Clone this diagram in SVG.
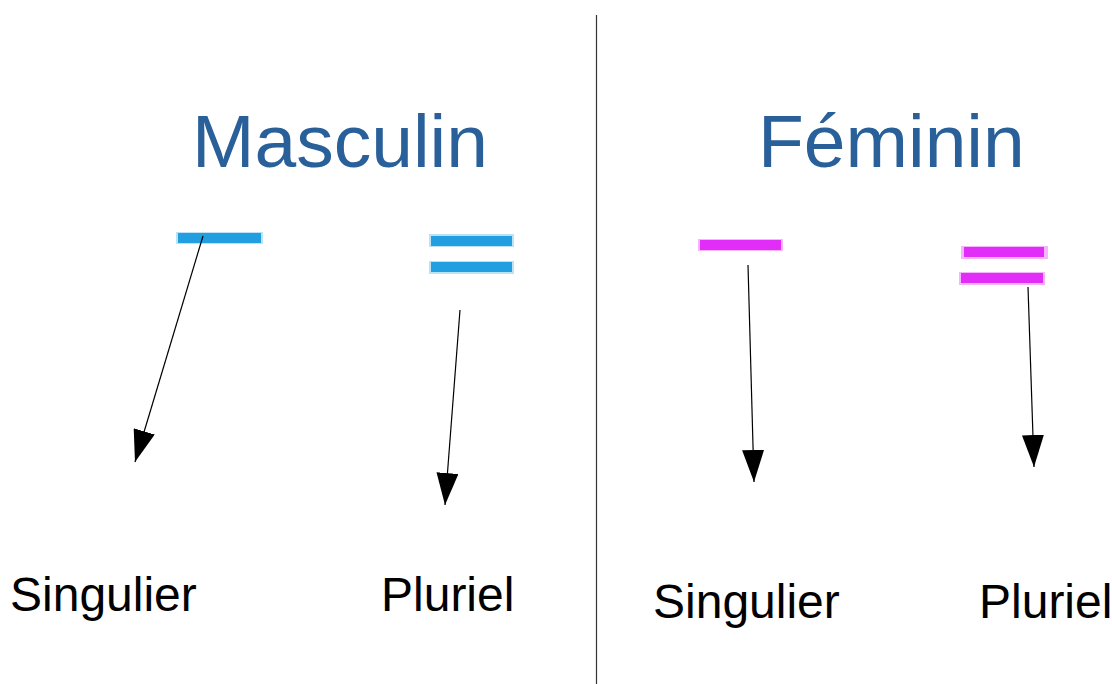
<svg xmlns="http://www.w3.org/2000/svg" width="1112" height="684" viewBox="0 0 1112 684">
<style>
.title{font-family:"Liberation Sans",Arial,sans-serif;font-size:75px;fill:#2a6099}
.lbl{font-family:"Liberation Sans",Arial,sans-serif;font-size:48px;fill:#000}
.blue{fill:#229fe0}
.blueh{fill:#229fe0;opacity:0.3}
.mag{fill:#e22cf8}
.magh{fill:#e22cf8;opacity:0.35}
.conn{stroke:#000;stroke-width:1.2;fill:none;marker-end:url(#ah)}
</style>
<defs>
<marker id="ah" markerUnits="userSpaceOnUse" markerWidth="32" markerHeight="22" refX="32" refY="11" orient="auto" viewBox="0 0 32 22">
<path d="M0,0 L32,11 L0,22 z" fill="#000"/>
</marker>
</defs>
<rect width="1112" height="684" fill="#fff"/>
<line x1="596.5" y1="15" x2="596.5" y2="684" stroke="#333" stroke-width="1.2"/>
<g id="masculin"><text class="title" x="192" y="167">Masculin</text></g>
<g id="feminin"><text class="title" x="758" y="167">Féminin</text></g>
<g id="bar-masc-sing"><rect class="blueh" x="176" y="232" width="87" height="12"/><rect class="blue" x="178" y="233" width="83" height="10"/></g>
<g id="bar-masc-plur"><rect class="blueh" x="429" y="234" width="85" height="13"/><rect class="blueh" x="429" y="261" width="85" height="13"/><rect class="blue" x="431" y="236" width="81" height="10"/><rect class="blue" x="431" y="262" width="81" height="10"/></g>
<g id="bar-fem-sing"><rect class="magh" x="698" y="239" width="85" height="12"/><rect class="mag" x="700" y="240" width="81" height="10"/></g>
<g id="bar-fem-plur"><rect class="magh" x="961" y="246" width="87" height="13"/><rect class="magh" x="959" y="272" width="86" height="13"/><rect class="mag" x="964" y="247" width="80" height="10"/><rect class="mag" x="961" y="273" width="82" height="10"/></g>
<g id="connectors">
<line class="conn" x1="203" y1="236" x2="135" y2="462"/>
<line class="conn" x1="460" y1="310" x2="445" y2="505"/>
<line class="conn" x1="748" y1="265" x2="754" y2="482"/>
<line class="conn" x1="1028" y1="287" x2="1034" y2="467"/>
</g>
<g id="masc-singulier"><text class="lbl" x="10" y="611">Singulier</text></g>
<g id="masc-pluriel"><text class="lbl" x="381" y="611">Pluriel</text></g>
<g id="fem-singulier"><text class="lbl" x="653" y="618">Singulier</text></g>
<g id="fem-pluriel"><text class="lbl" x="979" y="618">Pluriel</text></g>
</svg>
